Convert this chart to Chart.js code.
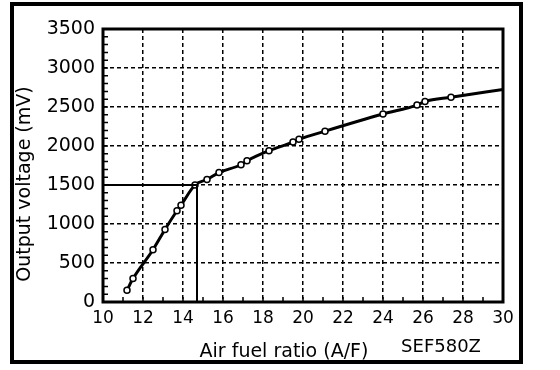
<!DOCTYPE html>
<html>
<head>
<meta charset="utf-8">
<script src="https://cdn.jsdelivr.net/npm/chart.js@4/dist/chart.umd.min.js"></script>
<style>
  body { margin: 0; background: #fff; }
</style>
</head>
<body>
<canvas id="myChart" width="560" height="370"></canvas>
<script>
// air fuel ratio vs output voltage
var afr = [11.2, 11.5, 12.5, 13.1, 13.7, 13.9, 14.6, 15.2, 15.8, 16.9, 17.2, 18.3, 19.5, 19.8, 21.1, 24.0, 25.7, 26.1, 27.4, 30];
var mv = [150, 300, 670, 930, 1170, 1240, 1500, 1570, 1660, 1760, 1810, 1940, 2050, 2085, 2190, 2410, 2525, 2570, 2625, 2725];
// the curve runs on to 30 but the last point has no marker
var marked = [1, 1, 1, 1, 1, 1, 1, 1, 1, 1, 1, 1, 1, 1, 1, 1, 1, 1, 1, 0];

// stoichiometric guide lines (14.7, 1500 mV)
var guideX = [10, 14.7, 14.7];
var guideY = [1500, 1500, 0];

var xTicks = [10, 12, 14, 16, 18, 20, 22, 24, 26, 28, 30];
var yTicks = [0, 500, 1000, 1500, 2000, 2500, 3000, 3500];

var xTitle = 'Air fuel ratio (A/F)';
var yTitle = 'Output voltage (mV)';
var figCode = 'SEF580Z';

var curve = [];
for (let i = 0; i < afr.length; i++) {
  curve.push({ x: afr[i], y: mv[i] });
}
var guide = [];
for (let i = 0; i < guideX.length; i++) {
  guide.push({ x: guideX[i], y: guideY[i] });
}

const frame = {
  id: 'frame',
  afterDraw(chart) {
    const ctx = chart.ctx;
    const a = chart.chartArea;
    const xs = chart.scales.x;
    const ys = chart.scales.y;
    ctx.save();
    ctx.strokeStyle = '#000';
    ctx.fillStyle = '#000';

    // small ticks inside the plot
    ctx.lineWidth = 1.5;
    ctx.beginPath();
    for (let v = xs.min; v <= xs.max; v += 1) {
      const px = xs.getPixelForValue(v);
      ctx.moveTo(px, a.bottom);
      ctx.lineTo(px, a.bottom - 5);
    }
    for (let v = ys.min; v <= ys.max; v += 100) {
      const py = ys.getPixelForValue(v);
      ctx.moveTo(a.left, py);
      ctx.lineTo(a.left + 5, py);
    }
    ctx.stroke();

    // plot frame
    ctx.lineWidth = 3;
    ctx.strokeRect(a.left, a.top, a.right - a.left, a.bottom - a.top);

    // outer box
    ctx.lineWidth = 4;
    ctx.strokeRect(12, 4, 509, 358);

    // titles
    ctx.font = '19px "DejaVu Sans"';
    ctx.textAlign = 'center';
    ctx.textBaseline = 'alphabetic';
    ctx.fillText(xTitle, 284, 357);

    ctx.font = '18px "DejaVu Sans"';
    ctx.fillText(figCode, 441, 352);

    ctx.translate(25.5, 184);
    ctx.rotate(-Math.PI / 2);
    ctx.font = '19px "DejaVu Sans"';
    ctx.textBaseline = 'middle';
    ctx.fillText(yTitle, 0, 0);
    ctx.restore();
  }
};

const data = {
  datasets: [{
    label: 'guide',
    data: guide,
    showLine: true,
    borderColor: '#000',
    borderWidth: 2,
    pointRadius: 0,
    tension: 0
  },
  {
    label: 'sensor',
    data: curve,
    showLine: true,
    borderColor: '#000',
    borderWidth: 3,
    cubicInterpolationMode: 'monotone',
    pointRadius: marked.map(m => m ? 3 : 0),
    pointBackgroundColor: '#fff',
    pointBorderColor: '#000',
    pointBorderWidth: 1.5
  }]
};

const config = {
  type: 'scatter',
  data: data,
  options: {
    responsive: false,
    animation: false,
    layout: { padding: { left: 0, right: 57, top: 29, bottom: 0 } },
    plugins: {
      legend: { display: false },
      tooltip: { enabled: false }
    },
    scales: {
      x: {
        type: 'linear',
        min: 10,
        max: 30,
        afterBuildTicks: s => { s.ticks = xTicks.map(v => ({ value: v })); },
        afterFit: s => { s.height = 68; },
        grid: { color: '#000', lineWidth: 1.5, drawTicks: false },
        border: { display: false, dash: [4, 3] },
        ticks: {
          color: '#000',
          padding: 6,
          callback: v => String(v),
          font: { family: 'DejaVu Sans', size: 17 }
        }
      },
      y: {
        type: 'linear',
        min: 0,
        max: 3500,
        afterBuildTicks: s => { s.ticks = yTicks.map(v => ({ value: v })); },
        afterFit: s => { s.width = 103; },
        grid: { color: '#000', lineWidth: 1.5, drawTicks: false },
        border: { display: false, dash: [4, 3] },
        ticks: {
          color: '#000',
          padding: 8,
          callback: v => String(v),
          font: { family: 'DejaVu Sans', size: 19 }
        }
      }
    }
  },
  plugins: [frame]
};

var myChart = new Chart(document.getElementById('myChart'), config);
</script>
</body>
</html>
